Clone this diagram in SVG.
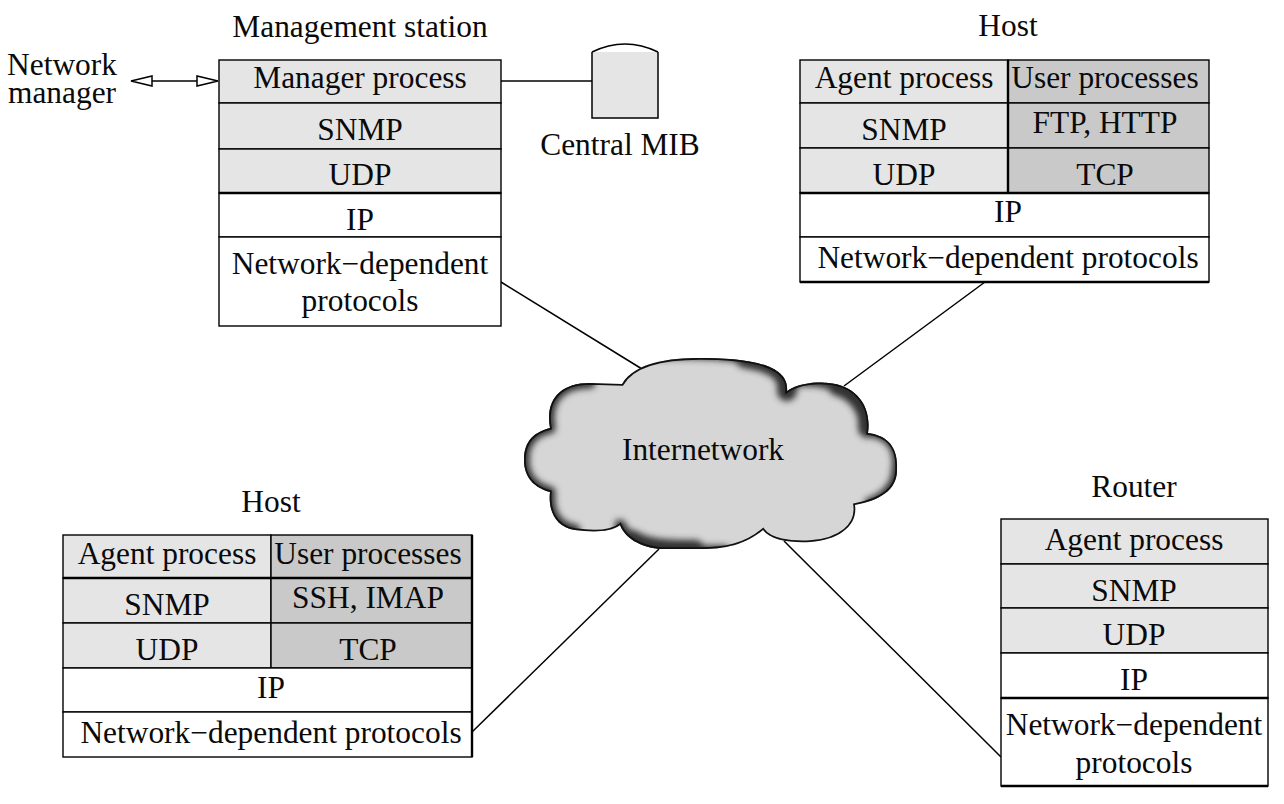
<svg xmlns="http://www.w3.org/2000/svg" width="1284" height="804" viewBox="0 0 1284 804">
<style>
text{font-family:"Liberation Serif","Times New Roman",serif;font-size:31.4px;fill:#0a0a0a;text-anchor:middle}
.l{fill:#e5e5e5;stroke:#000;stroke-width:1.4}
.d{fill:#c9c9c9;stroke:#000;stroke-width:1.4}
.w{fill:#fff;stroke:#000;stroke-width:1.4}
.c{stroke:#000;stroke-width:1.5;fill:none}
.t{stroke:#000;stroke-width:2.4;fill:none}
.h{fill:#fff;stroke:#000;stroke-width:1.5}
.s{fill:none;stroke:#333;stroke-width:20;stroke-linecap:round}
.n{fill:none;stroke:#333;stroke-width:11;stroke-linecap:round}
</style>
<defs>
<path id="cloudShape" d="M622,384C635,362 670,358 700,358C740,358 790,362 787,391C800,382 820,382 828,383C855,385 872,405 868,433C885,435 898,445 897,468C898,490 880,500 855,505C858,525 840,540 810,542C790,543 770,540 763,530C745,545 725,549 700,549L660,549C640,547 625,538 620,525C610,533 590,532 575,530C555,527 548,510 550,492C535,488 524,478 524,460C524,440 535,432 550,428C545,400 560,383 590,383Z"/>
<clipPath id="cloudClip"><use href="#cloudShape"/></clipPath>
<filter id="soft2" x="-20%" y="-20%" width="140%" height="140%"><feGaussianBlur stdDeviation="3"/></filter>
</defs>
<g id="connectors">
<line class="c" x1="501" y1="282" x2="642" y2="369"/>
<line class="c" x1="985" y1="282" x2="844" y2="386"/>
<line class="c" x1="471" y1="733" x2="659" y2="549"/>
<line class="c" x1="1001" y1="757" x2="784" y2="541"/>
<line class="c" x1="501" y1="81" x2="592" y2="81"/>
<line class="c" x1="152" y1="81" x2="197" y2="81"/>
<polygon class="h" points="131,81 152,76 152,86"/>
<polygon class="h" points="218,81 197,76 197,86"/>
</g>
<g id="network-manager"><text x="62" y="75">Network</text><text x="62" y="103">manager</text></g>
<g id="management-station">
<text x="360" y="37">Management station</text>
<rect class="l" x="219" y="60" width="282" height="43"/><rect class="l" x="219" y="103" width="282" height="46"/><rect class="l" x="219" y="149" width="282" height="44"/>
<rect class="w" x="219" y="193" width="282" height="44"/><rect class="w" x="219" y="237" width="282" height="89"/>
<line class="t" x1="219" y1="193" x2="501" y2="193"/>
<text x="360" y="88">Manager process</text><text x="360" y="140">SNMP</text><text x="360" y="185">UDP</text><text x="360" y="230">IP</text><text x="360" y="274">Network−dependent</text><text x="360" y="311">protocols</text>
</g>
<g id="central-mib">
<path d="M592,52V118H658V52Z" fill="#e5e5e5"/>
<path class="c" d="M592,52Q625,36 658,52M592,52V118H658V52"/>
<text x="620" y="155">Central MIB</text>
</g>
<g id="host-top">
<text x="1008" y="36">Host</text>
<rect class="l" x="800" y="60" width="208" height="43"/><rect class="d" x="1008" y="60" width="201" height="43"/>
<rect class="l" x="800" y="103" width="208" height="45"/><rect class="d" x="1008" y="103" width="201" height="45"/>
<rect class="l" x="800" y="148" width="208" height="45"/><rect class="d" x="1008" y="148" width="201" height="45"/>
<rect class="w" x="800" y="193" width="409" height="44"/><rect class="w" x="800" y="237" width="409" height="45"/>
<path class="t" d="M800,193H1209M800,282H1209M1008,60V193"/>
<text x="904" y="88">Agent process</text><text x="1105" y="88">User processes</text><text x="904" y="140">SNMP</text><text x="1105" y="133">FTP, HTTP</text><text x="904" y="185">UDP</text><text x="1105" y="185">TCP</text><text x="1008" y="222">IP</text><text x="1008" y="268">Network−dependent protocols</text>
</g>
<g id="host-bottom">
<text x="271" y="512">Host</text>
<rect class="l" x="63" y="535" width="208" height="43"/><rect class="d" x="271" y="535" width="201" height="43"/>
<rect class="l" x="63" y="578" width="208" height="45"/><rect class="d" x="271" y="578" width="201" height="45"/>
<rect class="l" x="63" y="623" width="208" height="45"/><rect class="d" x="271" y="623" width="201" height="45"/>
<rect class="w" x="63" y="668" width="409" height="44"/><rect class="w" x="63" y="712" width="409" height="45"/>
<path class="t" d="M63,578H472M472,535V757"/>
<text x="167" y="564">Agent process</text><text x="368" y="564">User processes</text><text x="167" y="615">SNMP</text><text x="368" y="608">SSH, IMAP</text><text x="167" y="660">UDP</text><text x="368" y="660">TCP</text><text x="271" y="698">IP</text><text x="271" y="743">Network−dependent protocols</text>
</g>
<g id="router">
<text x="1134" y="497">Router</text>
<rect class="l" x="1001" y="519" width="267" height="45"/><rect class="l" x="1001" y="564" width="267" height="44"/><rect class="l" x="1001" y="608" width="267" height="45"/>
<rect class="w" x="1001" y="653" width="267" height="45"/><rect class="w" x="1001" y="698" width="267" height="88"/>
<path class="t" d="M1001,698H1268M1001,786H1268"/>
<text x="1134" y="550">Agent process</text><text x="1134" y="601">SNMP</text><text x="1134" y="645">UDP</text><text x="1134" y="690">IP</text><text x="1134" y="735">Network−dependent</text><text x="1134" y="773">protocols</text>
</g>
<g id="internetwork">
<g clip-path="url(#cloudClip)">
<use href="#cloudShape" fill="#d6d6d6"/>
<g filter="url(#soft2)">
<path class="n" d="M660,354C720,352 775,358 792,372"/>
<path class="s" d="M745,358C772,362 790,372 787,391"/>
<path class="n" d="M800,381C830,379 860,390 872,430"/>
<path class="s" d="M838,386C858,392 870,410 868,428"/>
<path class="n" d="M876,433C895,437 900,455 897,470C897,485 885,498 870,503"/>
<path class="n" d="M620,525C630,545 650,552 725,551"/>
<path class="s" d="M632,540C645,549 665,550 695,550"/>
<path class="n" d="M550,492C548,510 555,527 575,530"/>
<path class="n" d="M550,428C545,400 560,383 590,383"/>
<path class="n" d="M524,460C524,440 535,432 550,428"/>
<path class="n" d="M524,460C524,478 535,488 550,492"/>
</g>
<use href="#cloudShape" fill="none" stroke="#111" stroke-width="3.5"/>
</g>
<text x="703" y="460">Internetwork</text>
</g>
</svg>
